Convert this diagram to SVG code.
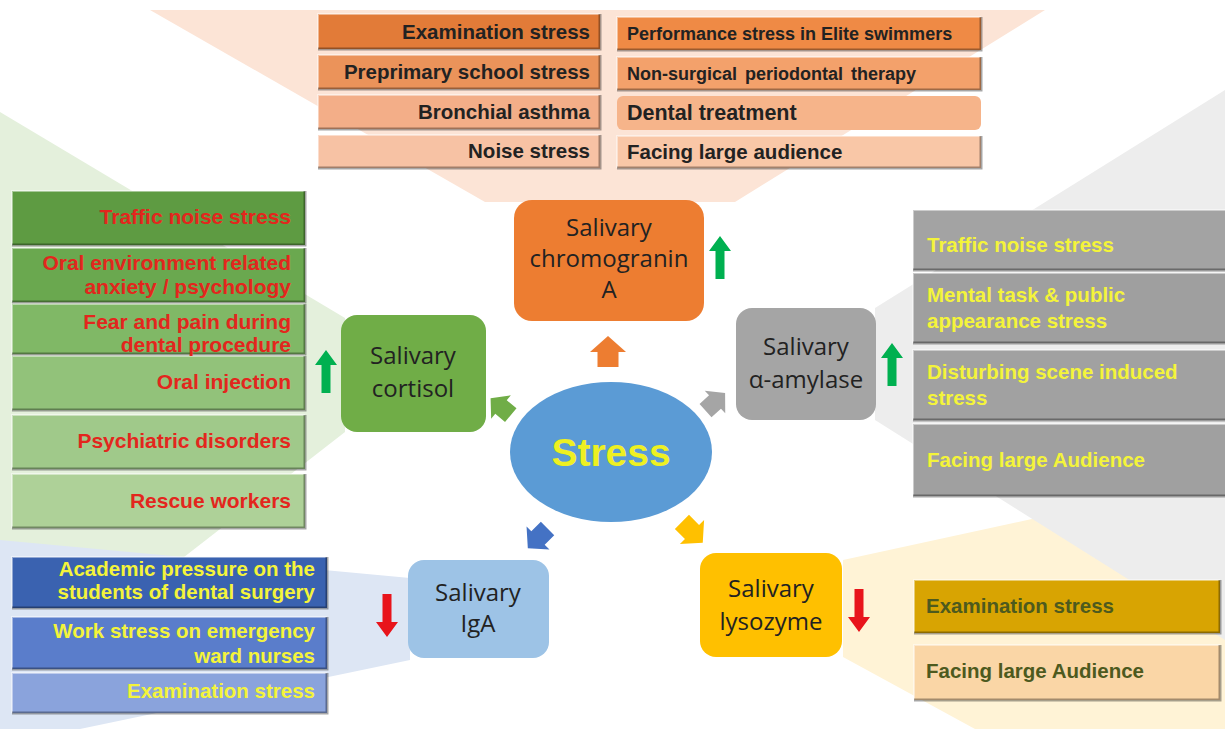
<svg xmlns="http://www.w3.org/2000/svg" width="1225" height="729" viewBox="0 0 1225 729">
<style>
.lt{font-family:"Liberation Sans",Arial,sans-serif;font-weight:bold;font-size:20.5px}
.nt{font-family:"Open Sans","Liberation Sans",sans-serif;font-size:24px;fill:#222222;text-anchor:middle}
.hi{fill:none;stroke:#ffffff;stroke-opacity:.45;stroke-width:2}
.sh{fill:none;stroke:#000000;stroke-opacity:.35;stroke-width:3}
.dk{fill:#222222}
.rd{fill:#e3261d}
.yl{fill:#f4f43a}
.ol{fill:#4d5a1e}
</style>
<defs>
<path id="blk" d="M0,-16 L18,0 L10.5,0 L10.5,15 L-10.5,15 L-10.5,0 L-18,0 Z"/>
<path id="up" d="M0,0 L11,15 L4.5,15 L4.5,43 L-4.5,43 L-4.5,15 L-11,15 Z"/>
</defs>
<rect width="1225" height="729" fill="#ffffff"/>
<g id="background">
<polygon points="150,10 1045,10 735,202 485,202" fill="#fce4d6"/>
<polygon points="0,112 345,318 345,432 0,700" fill="#e4f0dc"/>
<polygon points="843,560 1050,515 1225,600 1225,729 975,729 843,657" fill="#fff3d6"/>
<polygon points="875,308 1225,90 1225,640 875,420" fill="#ededed"/>
<polygon points="0,540 410,578 410,660 80,729 0,729" fill="#dde6f4"/>
</g>
<g id="connectors">
<use href="#blk" transform="translate(608,352)" fill="#ed7d31"/>
<use href="#blk" transform="translate(501,407) rotate(-50) scale(0.85)" fill="#70ad47"/>
<use href="#blk" transform="translate(715,402) rotate(48) scale(0.85)" fill="#a5a5a5"/>
<use href="#blk" transform="translate(538,538) rotate(-135) scale(0.9)" fill="#4472c4"/>
<use href="#blk" transform="translate(692,532) rotate(135) scale(0.95)" fill="#ffc000"/>
</g>
<g id="stress">
<ellipse cx="611" cy="452" rx="101" ry="70" fill="#5b9bd5"/>
<text x="611" y="466" text-anchor="middle" style="font-family:'Liberation Sans',Arial,sans-serif;font-weight:bold;font-size:39px;fill:#eef022">Stress</text>
</g>
<g id="chromogranin">
<rect x="514" y="200" width="190" height="121" rx="18" fill="#ed7d31"/>
<text class="nt" x="609" y="236">Salivary</text>
<text class="nt" x="609" y="267">chromogranin</text>
<text class="nt" x="609" y="298">A</text>
<use href="#up" transform="translate(720,236)" fill="#00b050"/>
</g>
<g id="cortisol">
<rect x="341" y="315" width="145" height="117" rx="16" fill="#70ad47"/>
<text class="nt" x="413" y="364">Salivary</text>
<text class="nt" x="413" y="397">cortisol</text>
<use href="#up" transform="translate(326,350)" fill="#00b050"/>
</g>
<g id="amylase">
<rect x="736" y="308" width="140" height="112" rx="16" fill="#a5a5a5"/>
<text class="nt" x="806" y="355">Salivary</text>
<text class="nt" x="806" y="388">α-amylase</text>
<use href="#up" transform="translate(892,343)" fill="#00b050"/>
</g>
<g id="iga">
<rect x="408" y="560" width="141" height="98" rx="16" fill="#9dc3e6"/>
<text class="nt" x="478" y="601">Salivary</text>
<text class="nt" x="478" y="632">IgA</text>
<use href="#up" transform="translate(387,637) rotate(180)" fill="#e8141b"/>
</g>
<g id="lysozyme">
<rect x="700" y="553" width="142" height="104" rx="16" fill="#ffc000"/>
<text class="nt" x="771" y="597">Salivary</text>
<text class="nt" x="771" y="630">lysozyme</text>
<use href="#up" transform="translate(859,632) rotate(180)" fill="#e8141b"/>
</g>
<g id="chromogranin-causes">
<rect x="318" y="14" width="282" height="35" fill="#e27b38"/>
<rect x="318" y="55" width="282" height="34" fill="#eb935a"/>
<rect x="318" y="95" width="282" height="34" fill="#f3ae88"/>
<rect x="318" y="135" width="282" height="33" fill="#f7c2a4"/>
<rect x="617" y="17" width="364" height="33" fill="#ef8a45"/>
<rect x="617" y="57" width="364" height="33" fill="#f3a16b"/>
<rect x="617" y="96" width="364" height="34" rx="6" fill="#f6b48a"/>
<rect x="617" y="136" width="364" height="32" fill="#f9c7a7"/>
<path class="hi" d="M318,49 V14 H600 M318,89 V55 H600 M318,129 V95 H600 M318,168 V135 H600 M617,50 V17 H981 M617,90 V57 H981 M617,168 V136 H981"/>
<path class="sh" d="M318,49 H600 V14 M318,89 H600 V55 M318,129 H600 V95 M318,168 H600 V135 M617,50 H981 V17 M617,90 H981 V57 M617,168 H981 V136"/>
<g class="lt dk" text-anchor="end">
<text x="590" y="39">Examination stress</text>
<text x="590" y="79">Preprimary school stress</text>
<text x="590" y="119">Bronchial asthma</text>
<text x="590" y="158">Noise stress</text>
</g>
<g class="lt dk">
<text x="627" y="40" style="font-size:18px">Performance stress in Elite swimmers</text>
<text x="627" y="80" style="font-size:18px;word-spacing:3px">Non-surgical periodontal therapy</text>
<text x="627" y="120" style="font-size:21.5px">Dental treatment</text>
<text x="627" y="159">Facing large audience</text>
</g>
</g>
<g id="cortisol-causes">
<rect x="12" y="191" width="293" height="54" fill="#5e9b42"/>
<rect x="12" y="248" width="293" height="54" fill="#6aa84f"/>
<rect x="12" y="304" width="293" height="50" fill="#80b866"/>
<rect x="12" y="356" width="293" height="54" fill="#92c27a"/>
<rect x="12" y="415" width="293" height="54" fill="#a0c98a"/>
<rect x="12" y="474" width="293" height="54" fill="#aed198"/>
<path class="hi" d="M12,245 V191 H305 M12,302 V248 H305 M12,354 V304 H305 M12,410 V356 H305 M12,469 V415 H305 M12,528 V474 H305"/>
<path class="sh" d="M12,245 H305 V191 M12,302 H305 V248 M12,354 H305 V304 M12,410 H305 V356 M12,469 H305 V415 M12,528 H305 V474"/>
<g class="lt rd" text-anchor="end" style="font-size:21px">
<text x="291" y="224">Traffic noise stress</text>
<text x="291" y="270">Oral environment related</text>
<text x="291" y="294">anxiety / psychology</text>
<text x="291" y="329">Fear and pain during</text>
<text x="291" y="352">dental procedure</text>
<text x="291" y="389">Oral injection</text>
<text x="291" y="448">Psychiatric disorders</text>
<text x="291" y="508">Rescue workers</text>
</g>
</g>
<g id="amylase-causes">
<rect x="913" y="210" width="314" height="60" fill="#a3a3a3"/>
<rect x="913" y="273" width="314" height="70" fill="#9f9f9f"/>
<rect x="913" y="350" width="314" height="70" fill="#a1a1a1"/>
<rect x="913" y="424" width="314" height="72" fill="#a0a0a0"/>
<path class="hi" d="M913,270 V210 H1225 M913,343 V273 H1225 M913,420 V350 H1225 M913,496 V424 H1225"/>
<path class="sh" d="M913,270 H1225 M913,343 H1225 M913,420 H1225 M913,496 H1225"/>
<g class="lt yl">
<text x="927" y="252">Traffic noise stress</text>
<text x="927" y="302">Mental task &amp; public</text>
<text x="927" y="328">appearance stress</text>
<text x="927" y="379">Disturbing scene induced</text>
<text x="927" y="405">stress</text>
<text x="927" y="467">Facing large Audience</text>
</g>
</g>
<g id="iga-causes">
<rect x="12" y="557" width="315" height="51" fill="#3a62b0"/>
<rect x="12" y="617" width="315" height="52" fill="#5a7dcb"/>
<rect x="12" y="673" width="315" height="40" fill="#8aa3dc"/>
<path class="hi" d="M12,608 V557 H327 M12,669 V617 H327 M12,713 V673 H327"/>
<path class="sh" d="M12,608 H327 V557 M12,669 H327 V617 M12,713 H327 V673"/>
<g class="lt yl" text-anchor="end">
<text x="315" y="576">Academic pressure on the</text>
<text x="315" y="599">students of dental surgery</text>
<text x="315" y="638">Work stress on emergency</text>
<text x="315" y="663">ward nurses</text>
<text x="315" y="698">Examination stress</text>
</g>
</g>
<g id="lysozyme-causes">
<rect x="914" y="580" width="306" height="53" fill="#d8a402"/>
<rect x="914" y="645" width="306" height="55" fill="#fad6a6"/>
<path class="hi" d="M914,633 V580 H1220 M914,700 V645 H1220"/>
<path class="sh" d="M914,633 H1220 V580 M914,700 H1220 V645"/>
<g class="lt ol">
<text x="926" y="613">Examination stress</text>
<text x="926" y="678">Facing large Audience</text>
</g>
</g>
</svg>
